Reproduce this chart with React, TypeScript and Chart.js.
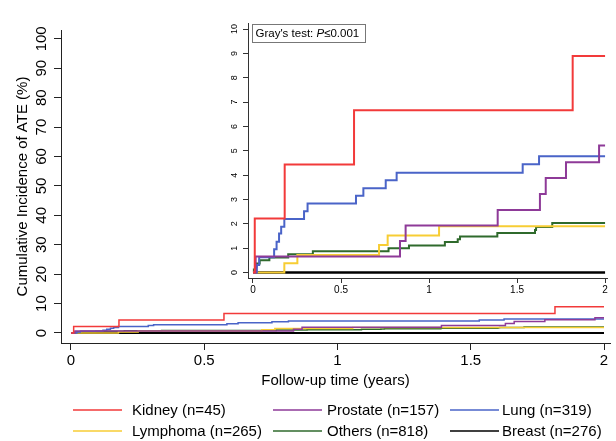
import React, { useEffect, useRef } from 'react';
import { Chart, registerables } from 'chart.js';

Chart.register(...registerables);

const FONT = "'Liberation Sans', Arial, Helvetica, sans-serif";

// ---- data ----
const seriesNames = ['Kidney', 'Prostate', 'Lung', 'Lymphoma', 'Others', 'Breast'];
const seriesN = [45, 157, 319, 265, 818, 276];
const seriesColors = ['#f23a3a', '#8e3a98', '#4a64c8', '#f7cd34', '#2f6a2c', '#000000'];

// event times (years) and cumulative incidence (%) reached at each time
const kidneyT = [0, 0.01, 0.18, 0.574, 1.816, 2];
const kidneyV = [0, 2.22, 4.44, 6.67, 8.89, 8.89];
const prostateT = [0, 0.015, 0.835, 0.867, 1.39, 1.63, 1.663, 1.778, 1.966, 2];
const prostateV = [0, 0.66, 1.29, 1.93, 2.57, 3.23, 3.88, 4.53, 5.22, 5.22];
const lungT = [0, 0.022, 0.035, 0.12, 0.134, 0.148, 0.16, 0.178, 0.29, 0.31, 0.585, 0.627, 0.754, 0.816, 1.532, 1.625, 2];
const lungV = [0, 0.31, 0.63, 0.95, 1.26, 1.6, 1.88, 2.2, 2.52, 2.83, 3.15, 3.46, 3.79, 4.1, 4.45, 4.78, 4.78];
const lymphomaT = [0, 0.178, 0.252, 0.716, 0.765, 1.057, 2];
const lymphomaV = [0, 0.38, 0.72, 1.13, 1.52, 1.9, 1.9];
const othersT = [0, 0.005, 0.012, 0.02, 0.038, 0.093, 0.2, 0.34, 0.77, 0.886, 1.09, 1.163, 1.176, 1.388, 1.602, 1.608, 1.7, 2];
const othersV = [0, 0.12, 0.24, 0.37, 0.5, 0.62, 0.75, 0.87, 1.0, 1.11, 1.25, 1.37, 1.48, 1.62, 1.75, 1.87, 2.03, 2.03];
const breastT = [0, 2];
const breastV = [0, 0];

const seriesT = [kidneyT, prostateT, lungT, lymphomaT, othersT, breastT];
const seriesV = [kidneyV, prostateV, lungV, lymphomaV, othersV, breastV];

const xTicks = [0, 0.5, 1, 1.5, 2];
const mainYTicks = [0, 10, 20, 30, 40, 50, 60, 70, 80, 90, 100];
const insetYTicks = [0, 1, 2, 3, 4, 5, 6, 7, 8, 9, 10];

const xTitle = 'Follow-up time (years)';
const yTitle = 'Cumulative Incidence of ATE (%)';
const testLabel = "Gray's test: ";
const testP = 'P';
const testValue = '≤0.001';

function makeDatasets(width: number) {
  return seriesNames.map((name, i) => ({
    label: `${name} (n=${seriesN[i]})`,
    data: seriesT[i].map((t, j) => ({ x: t, y: seriesV[i][j] })),
    borderColor: seriesColors[i],
    backgroundColor: seriesColors[i],
    borderWidth: i === 5 ? width + 0.5 : width,
    pointRadius: 0,
    stepped: 'before' as const,
    fill: false,
    tension: 0,
  }));
}

const legendPlugin = {
  id: 'gridLegend',
  afterDraw(chart: any) {
    const ctx = chart.ctx;
    const lineX = [73, 273, 450];
    const textX = [132, 327, 502];
    const rowY = [410, 431];
    ctx.save();
    ctx.font = `15px ${FONT}`;
    ctx.textBaseline = 'middle';
    ctx.textAlign = 'left';
    seriesNames.forEach((name, i) => {
      const c = i % 3;
      const r = Math.floor(i / 3);
      ctx.strokeStyle = seriesColors[i];
      ctx.lineWidth = 1.5;
      ctx.beginPath();
      ctx.moveTo(lineX[c], rowY[r]);
      ctx.lineTo(lineX[c] + 49, rowY[r]);
      ctx.stroke();
      ctx.fillStyle = '#000';
      ctx.fillText(`${name} (n=${seriesN[i]})`, textX[c], rowY[r] + 1);
    });
    ctx.restore();
  },
};

const grayBoxPlugin = {
  id: 'grayBox',
  afterDraw(chart: any) {
    const ctx = chart.ctx;
    const a = chart.chartArea;
    const x0 = a.left + 4.5;
    const y0 = a.top + 1.5;
    const w = 113;
    const h = 18;
    ctx.save();
    ctx.fillStyle = '#fff';
    ctx.fillRect(x0, y0, w, h);
    ctx.strokeStyle = '#777';
    ctx.lineWidth = 1;
    ctx.strokeRect(x0, y0, w, h);
    ctx.fillStyle = '#000';
    ctx.textBaseline = 'middle';
    ctx.textAlign = 'left';
    let x = x0 + 3;
    const y = y0 + h / 2 + 0.5;
    ctx.font = `11.5px ${FONT}`;
    ctx.fillText(testLabel, x, y);
    x += ctx.measureText(testLabel).width;
    ctx.font = `italic 11.5px ${FONT}`;
    ctx.fillText(testP, x, y);
    x += ctx.measureText(testP).width;
    ctx.font = `11.5px ${FONT}`;
    ctx.fillText(testValue, x, y);
    ctx.restore();
  },
};

export default function App() {
  const mainRef = useRef<HTMLCanvasElement>(null);
  const insetRef = useRef<HTMLCanvasElement>(null);

  useEffect(() => {
    Chart.defaults.font.family = FONT;
    Chart.defaults.color = '#000';

    const main = new Chart(mainRef.current as HTMLCanvasElement, {
      type: 'line',
      data: { datasets: makeDatasets(1.5) as any },
      options: {
        responsive: false,
        animation: false,
        layout: { padding: { left: 0, top: 30, right: 6, bottom: 48 } },
        plugins: { legend: { display: false }, tooltip: { enabled: false } },
        scales: {
          x: {
            type: 'linear',
            min: -0.0375,
            max: 2.0225,
            afterBuildTicks: (s: any) => { s.ticks = xTicks.map((v) => ({ value: v })); },
            afterFit: (s: any) => { s.height = 50; },
            ticks: { font: { size: 15 }, color: '#000', padding: 2, maxRotation: 0, autoSkip: false, callback: (v: any) => String(v) },
            grid: { display: true, drawOnChartArea: false, drawTicks: true, tickLength: 7, color: '#222', lineWidth: 1 },
            border: { display: true, color: '#222', width: 1 },
            title: { display: true, text: xTitle, font: { size: 15 }, color: '#000', padding: { top: 0, bottom: 3 } },
          },
          y: {
            type: 'linear',
            min: -3.4,
            max: 103,
            afterBuildTicks: (s: any) => { s.ticks = mainYTicks.map((v) => ({ value: v })); },
            afterFit: (s: any) => { s.width = 61; },
            ticks: { font: { size: 15 }, color: '#000', padding: 0, minRotation: 90, maxRotation: 90, crossAlign: 'center', autoSkip: false, callback: (v: any) => String(v) },
            grid: { display: true, drawOnChartArea: false, drawTicks: true, tickLength: 7, color: '#222', lineWidth: 1 },
            border: { display: true, color: '#222', width: 1 },
            title: { display: true, text: yTitle, font: { size: 15 }, color: '#000', padding: { top: 14, bottom: 0 } },
          },
        },
      } as any,
      plugins: [legendPlugin],
    });

    const inset = new Chart(insetRef.current as HTMLCanvasElement, {
      type: 'line',
      data: { datasets: makeDatasets(2) as any },
      options: {
        responsive: false,
        animation: false,
        layout: { padding: { left: 0, top: 11, right: 9, bottom: 4 } },
        plugins: { legend: { display: false }, tooltip: { enabled: false } },
        scales: {
          x: {
            type: 'linear',
            min: -0.0284,
            max: 2.011,
            afterBuildTicks: (s: any) => { s.ticks = xTicks.map((v) => ({ value: v })); },
            afterFit: (s: any) => { s.height = 20; },
            ticks: { font: { size: 10 }, color: '#000', padding: 1, maxRotation: 0, autoSkip: false, callback: (v: any) => String(v) },
            grid: { display: true, drawOnChartArea: false, drawTicks: true, tickLength: 5, color: '#333', lineWidth: 1 },
            border: { display: true, color: '#333', width: 1 },
          },
          y: {
            type: 'linear',
            min: -0.226,
            max: 10.25,
            afterBuildTicks: (s: any) => { s.ticks = insetYTicks.map((v) => ({ value: v })); },
            afterFit: (s: any) => { s.width = 33; },
            ticks: { font: { size: 9 }, color: '#000', padding: 3, minRotation: 90, maxRotation: 90, crossAlign: 'center', autoSkip: false, callback: (v: any) => String(v) },
            grid: { display: true, drawOnChartArea: false, drawTicks: true, tickLength: 5, color: '#333', lineWidth: 1 },
            border: { display: true, color: '#333', width: 1 },
          },
        },
      } as any,
      plugins: [grayBoxPlugin],
    });

    return () => {
      main.destroy();
      inset.destroy();
    };
  }, []);

  return (
    <div style={{ position: 'fixed', left: 0, top: 0, width: 616, height: 441, background: '#fff', overflow: 'hidden' }}>
      <canvas ref={mainRef} width={616} height={441} style={{ position: 'absolute', left: 0, top: 0, display: 'block' }} />
      <canvas ref={insetRef} width={401} height={290} style={{ position: 'absolute', left: 215, top: 12, display: 'block' }} />
    </div>
  );
}
